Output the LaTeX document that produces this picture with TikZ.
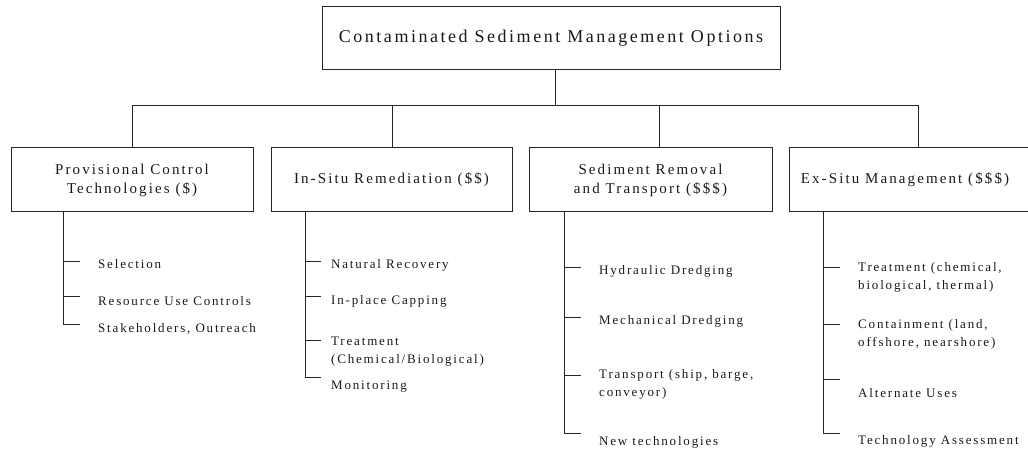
\documentclass[tikz,border=0pt]{standalone}
\usepackage{fontspec}
\newfontfamily\lsfont[LetterSpace=14]{Liberation Serif}
\begin{document}
\begin{tikzpicture}[x=1pt,y=-1pt,
  ln/.style={draw=black!85, line width=0.9pt},
  box/.style={ln, rectangle, inner sep=0pt},
  titletext/.style={font=\lsfont\fontsize{18}{22}\selectfont, inner sep=0pt, text=black!90},
  boxtext/.style={font=\lsfont\fontsize{15}{19.3}\selectfont, align=center, inner sep=0pt, text=black!90},
  itemtext/.style={font=\lsfont\fontsize{13}{18}\selectfont, align=left, anchor=west, inner sep=0pt, text=black!90},
  tick/.style={ln}
]
\useasboundingbox (0,0) rectangle (1028,453);
\clip (0,0) rectangle (1028,453);

% top box
\node[box, minimum width=458, minimum height=63] (top) at (551,37.5) {};
\node[titletext] (toptxt) at (551,38.5) {Contaminated Sediment Management Options};

% child boxes
\node[box, minimum width=242, minimum height=64] (c1) at (132,179) {};
\node[boxtext] (c1t) at (132,180.3) {Provisional Control\\Technologies (\$)};
\node[box, minimum width=241, minimum height=64] (c2) at (391.5,179) {};
\node[boxtext] (c2t) at (391.5,180) {In-Situ Remediation (\$\$)};
\node[box, minimum width=243, minimum height=64] (c3) at (650.5,179) {};
\node[boxtext] (c3t) at (650.5,180.3) {Sediment Removal\\and Transport (\$\$\$)};
\node[box, minimum width=258, minimum height=64] (c4) at (918,179) {};
\node[boxtext] (c4t) at (905,180) {Ex-Situ Management (\$\$\$)};

% tree connectors
\coordinate (j0) at (555,105);
\coordinate (j1) at (132,105);
\coordinate (j2) at (392,105);
\coordinate (j3) at (659,105);
\coordinate (j4) at (918,105);
\draw[ln] (top.south -| j0) -- (j0);
\draw[ln] (c1.north) -- (j1) -- (j4) -- (c4.north);
\draw[ln] (j2) -- (j2 |- c2.north);
\draw[ln] (j3) -- (j3 |- c3.north);

% group 1
\coordinate (v1) at (63,211);
\coordinate (t11) at (63,261);
\coordinate (t12) at (63,296);
\coordinate (t13) at (63,324);
\draw[ln] (v1) -- (t13) -- ++(17,0);
\draw[tick] (t11) -- ++(17,0);
\draw[tick] (t12) -- ++(17,0);
\node[itemtext] (i11) at (98,264.5) {Selection};
\node[itemtext] (i12) at (98,300.7) {Resource Use Controls};
\node[itemtext] (i13) at (98,329.3) {Stakeholders, Outreach};

% group 2
\coordinate (v2) at (305,211);
\coordinate (t21) at (305,261);
\coordinate (t22) at (305,296);
\coordinate (t23) at (305,340);
\coordinate (t24) at (305,377);
\draw[ln] (v2) -- (t24) -- ++(16,0);
\draw[tick] (t21) -- ++(16,0);
\draw[tick] (t22) -- ++(16,0);
\draw[tick] (t23) -- ++(16,0);
\node[itemtext] (i21) at (331,265) {Natural Recovery};
\node[itemtext] (i22) at (331,301) {In-place Capping};
\node[itemtext] (i23) at (331,351.5) {Treatment\\(Chemical/Biological)};
\node[itemtext] (i24) at (331,386.7) {Monitoring};

% group 3
\coordinate (v3) at (564,211);
\coordinate (t31) at (564,267);
\coordinate (t32) at (564,317);
\coordinate (t33) at (564,375);
\coordinate (t34) at (564,433);
\draw[ln] (v3) -- (t34) -- ++(17,0);
\draw[tick] (t31) -- ++(17,0);
\draw[tick] (t32) -- ++(17,0);
\draw[tick] (t33) -- ++(17,0);
\node[itemtext] (i31) at (599,271.7) {Hydraulic Dredging};
\node[itemtext] (i32) at (599,321.7) {Mechanical Dredging};
\node[itemtext] (i33) at (599,384) {Transport (ship, barge,\\conveyor)};
\node[itemtext] (i34) at (599,442.7) {New technologies};

% group 4
\coordinate (v4) at (823,211);
\coordinate (t41) at (823,267);
\coordinate (t42) at (823,324);
\coordinate (t43) at (823,379);
\coordinate (t44) at (823,433);
\draw[ln] (v4) -- (t44) -- ++(17,0);
\draw[tick] (t41) -- ++(17,0);
\draw[tick] (t42) -- ++(17,0);
\draw[tick] (t43) -- ++(17,0);
\node[itemtext] (i41) at (858,277.3) {Treatment (chemical,\\biological, thermal)};
\node[itemtext] (i42) at (858,334) {Containment (land,\\offshore, nearshore)};
\node[itemtext] (i43) at (858,393.3) {Alternate Uses};
\node[itemtext] (i44) at (858,441.7) {Technology Assessment};
\end{tikzpicture}
\end{document}
